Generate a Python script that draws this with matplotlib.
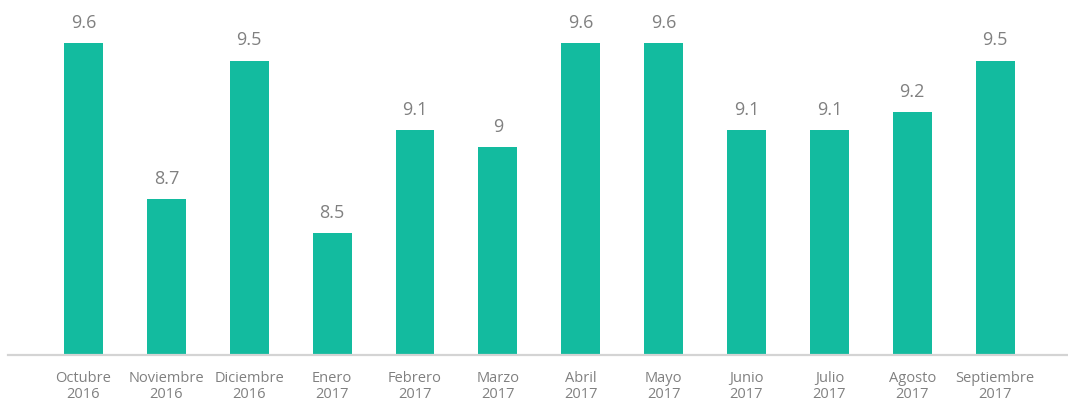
import matplotlib
matplotlib.use("Agg")
import matplotlib.pyplot as plt

months = ["Octubre", "Noviembre", "Diciembre", "Enero", "Febrero", "Marzo",
          "Abril", "Mayo", "Junio", "Julio", "Agosto", "Septiembre"]
years = ["2016", "2016", "2016", "2017", "2017", "2017",
         "2017", "2017", "2017", "2017", "2017", "2017"]
values = [9.6, 8.7, 9.5, 8.5, 9.1, 9.0, 9.6, 9.6, 9.1, 9.1, 9.2, 9.5]
value_labels = ["9.6", "8.7", "9.5", "8.5", "9.1", "9", "9.6", "9.6", "9.1", "9.1", "9.2", "9.5"]

plt.rcParams['font.family'] = ['Open Sans', 'DejaVu Sans']

fig = plt.figure(figsize=(10.68, 4.01), dpi=100)
ax = fig.add_axes([8/1068, (401-354.5)/401, 1060/1068, 354.5/401])

x = list(range(len(values)))
bars = ax.bar(x, values, width=0.47, color="#13BB9F", zorder=2)
ax.set_xlim(-0.911, 11.88)
ax.set_ylim(7.8, 9.85)

for xi, v, lab in zip(x, values, value_labels):
    ax.annotate(lab, (xi, v), xytext=(0, 8), textcoords="offset points",
                ha="center", va="bottom", fontsize=13, color="#808080")

ax.set_xticks(x)
ax.set_xticklabels([f"{m}\n{y}" for m, y in zip(months, years)],
                   fontsize=10.5, color="#808080", linespacing=1.1)
ax.tick_params(axis="x", length=0, pad=12)
ax.set_yticks([])
for s in ["top", "right", "left"]:
    ax.spines[s].set_visible(False)
ax.spines["bottom"].set_color("#d4d4d4")
ax.spines["bottom"].set_linewidth(1.6)

fig.savefig("out.png", dpi=100)
